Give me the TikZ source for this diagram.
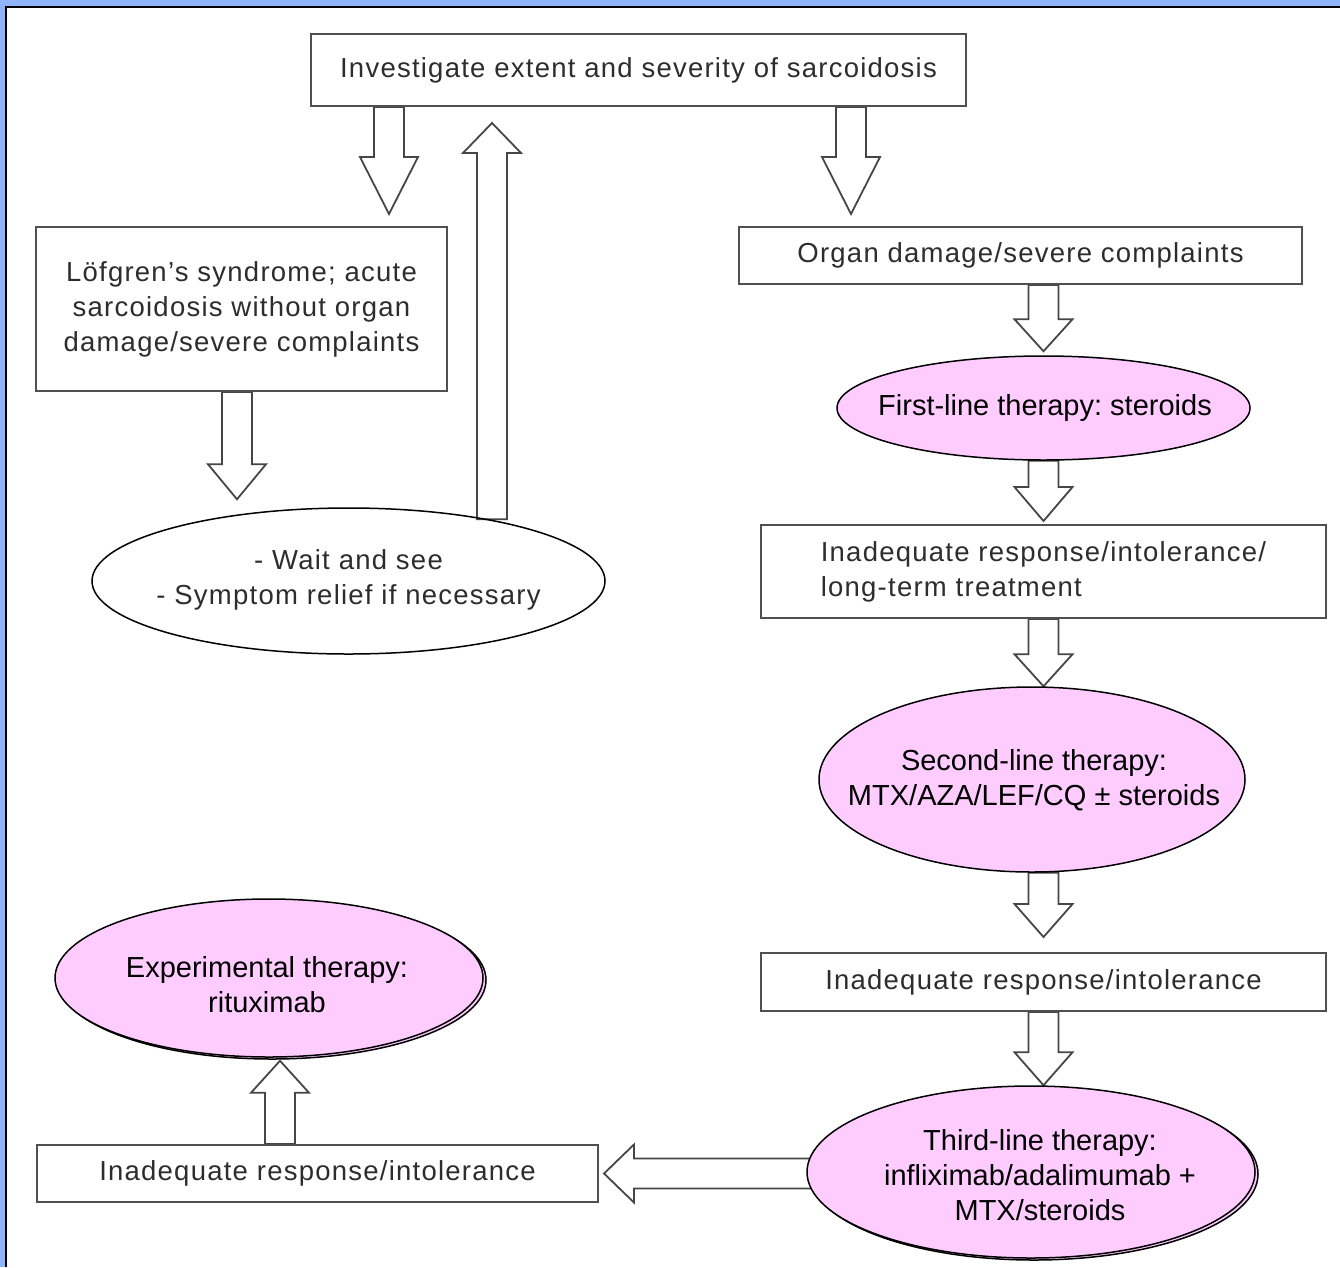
\documentclass[tikz,border=0pt]{standalone}
\usepackage{fontspec}
\setmainfont{Liberation Sans}
\newfontfamily\boxfont[LetterSpace=4.5]{Liberation Sans}
\usetikzlibrary{shapes.geometric,calc,shadows}
\pgfdeclarelayer{frame}
\pgfdeclarelayer{bg}
\pgfsetlayers{frame,bg,main}
\definecolor{frameblue}{RGB}{143,181,248}
\definecolor{pinkfill}{RGB}{255,204,255}
\definecolor{boxline}{RGB}{80,80,80}
\definecolor{boxtext}{RGB}{45,45,45}
\definecolor{arrowline}{RGB}{70,70,70}
\tikzset{
  greybox/.style={rectangle, draw=boxline, line width=2pt, inner sep=0pt,
    font={\boxfont\fontsize{27.5}{35}\selectfont}, text=boxtext, align=center},
  pinkell/.style={ellipse, draw=black, line width=1.5pt, fill=pinkfill, inner sep=0pt},
  plainell/.style={ellipse, draw=black, line width=1.5pt, inner sep=0pt},
  pinktext/.style={inner sep=0pt, font={\fontsize{29}{35}\selectfont}, align=center},
  greytext/.style={inner sep=0pt, font={\boxfont\fontsize{27.5}{35}\selectfont}, text=boxtext, align=center},
  fatline/.style={draw=arrowline, line width=1.8pt, line join=miter},
  shadowed/.style={copy shadow={shadow xshift=3pt, shadow yshift=-2pt}}
}
\newcommand\fatarrow[3]{%
  \coordinate (faH) at ($(#2)!#3!(#1)$);
  \draw[fatline] ($(#1)!15pt!90:(#2)$) -- ($(faH)!15pt!90:(#2)$) -- ($(faH)!29pt!90:(#2)$)
    -- (#2) -- ($(faH)!29pt!-90:(#2)$) -- ($(faH)!15pt!-90:(#2)$) -- ($(#1)!15pt!-90:(#2)$) -- cycle;}
\frenchspacing
\begin{document}
\begin{tikzpicture}[x=1pt,y=-1pt]
\useasboundingbox (0,0) rectangle (1340,1267);
\begin{pgfonlayer}{frame}
  \fill[frameblue] (0,0) rectangle (1340,1267);
  \fill[white] (6,7) rectangle (1340,1267);
  \draw[black, line width=2pt] (6,1267) -- (6,7) -- (1340,7);
\end{pgfonlayer}

% boxes
\node[greybox, minimum width=655, minimum height=72] (inv) at (638.5,70)
  {Investigate extent and severity of sarcoidosis};
\node[greybox, minimum width=411, minimum height=164] (lof) at (241.5,309)
  {Löfgren’s syndrome; acute\\sarcoidosis without organ\\damage/severe complaints};
\node[greybox, minimum width=563, minimum height=57] (organ) at (1020.5,255.5)
  {Organ damage/severe complaints};
\node[greybox, minimum width=565, minimum height=93, align=left] (inad1) at (1043.5,571.5)
  {Inadequate response/intolerance/\\long-term treatment};
\node[greybox, minimum width=565, minimum height=58] (inad2) at (1043.5,982)
  {Inadequate response/intolerance};
\node[greybox, minimum width=561, minimum height=57] (inad3) at (317.5,1173.5)
  {Inadequate response/intolerance};

% ellipses
\node[plainell, minimum width=513, minimum height=146] (wait) at (348.5,581) {};
\node[greytext] (waitt) at (348.5,580) {- Wait and see\\- Symptom relief if necessary};
\node[pinkell, minimum width=413, minimum height=104] (first) at (1043.5,408) {};
\node[pinktext] (firstt) at (1045,408) {First-line therapy: steroids};
\node[pinkell, minimum width=426, minimum height=185] (second) at (1032,779.5) {};
\node[pinktext] (secondt) at (1034,780) {Second-line therapy:\\MTX/AZA/LEF/CQ ± steroids};
\node[pinkell, shadowed, minimum width=448, minimum height=172] (third) at (1031,1172) {};
\node[pinktext] (thirdt) at (1040,1175) {Third-line therapy:\\infliximab/adalimumab +\\MTX/steroids};
\node[pinkell, shadowed, minimum width=428, minimum height=158] (exper) at (269,978) {};
\node[pinktext] (expert) at (267,985) {Experimental therapy:\\rituximab};

% connector end points
\coordinate (s1) at ($(inv.south)+(-249.5,0)$);
\coordinate (e1) at ($(lof.north -| s1)+(0,-12)$);
\coordinate (s2) at ($(inv.south)+(212.5,0)$);
\coordinate (e2) at ($(organ.north -| s2)+(0,-12)$);
\coordinate (s3) at ($(wait.north)+(143.5,12)$);
\coordinate (e3) at ($(inv.south -| s3)+(0,16)$);
\coordinate (s4) at ($(lof.south)+(-4.5,0)$);
\coordinate (e4) at ($(wait.north -| s4)+(0,-8)$);
\coordinate (s5) at (organ.south -| first.north);
\coordinate (e5) at ($(first.north)+(0,-4)$);
\coordinate (s6) at (first.south);
\coordinate (e6) at ($(inad1.north)+(0,-3)$);
\coordinate (s7) at (inad1.south);
\coordinate (e7) at (second.north -| inad1.south);
\coordinate (s8) at (second.south -| inad1.south);
\coordinate (e8) at ($(inad2.north)+(0,-15)$);
\coordinate (s9) at (inad2.south);
\coordinate (e9) at (third.north -| inad2.south);
\coordinate (s10) at ($(third.west)+(5,1.5)$);
\coordinate (e10) at ($(inad3.east)+(5,0)$);
\coordinate (s11) at ($(inad3.north)+(-37.5,0)$);
\coordinate (e11) at ($(exper.south -| s11)+(0,3)$);

\begin{pgfonlayer}{bg}
  \fatarrow{s1}{e1}{57pt}
  \fatarrow{s2}{e2}{57pt}
  \fatarrow{s3}{e3}{30pt}
  \fatarrow{s4}{e4}{35pt}
  \fatarrow{s5}{e5}{32pt}
  \fatarrow{s6}{e6}{34pt}
  \fatarrow{s7}{e7}{32pt}
  \fatarrow{s8}{e8}{33pt}
  \fatarrow{s9}{e9}{33pt}
  \fatarrow{s10}{e10}{30pt}
  \fatarrow{s11}{e11}{32pt}
\end{pgfonlayer}
\end{tikzpicture}
\end{document}
